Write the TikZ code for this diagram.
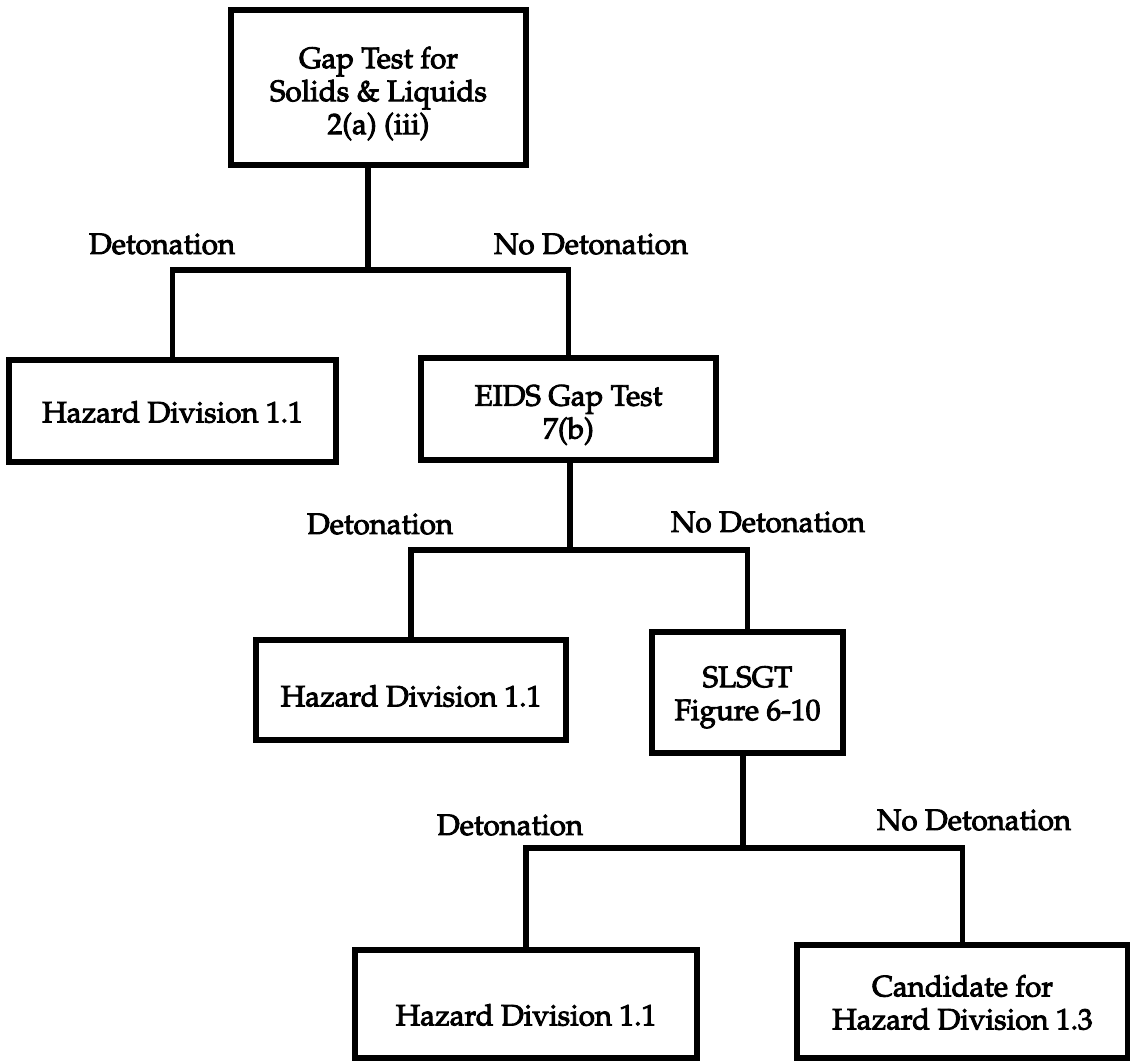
\documentclass[tikz,border=0pt]{standalone}
\usepackage[T1]{fontenc}
\renewcommand{\rmdefault}{ppl}
\newcommand{\heavyon}{\special{pdf:literal direct 2 Tr 0.9 w}}
\newcommand{\heavyoff}{\special{pdf:literal direct 0 Tr}}
\begin{document}
\begin{tikzpicture}[x=1pt,y=-1pt,
  box/.style={draw, line width=5.5pt, rectangle, inner sep=0pt},
  tx/.style={align=center, inner sep=0pt, font=\fontsize{29.5}{33}\selectfont},
  lab/.style={inner sep=0pt, font=\fontsize{29.5}{33}\selectfont},
  conn/.style={line width=5.5pt}]
\useasboundingbox (0,0) rectangle (1130,1061);
% boxes
\node[box, minimum width=295pt, minimum height=155pt] (A) at (378.5,87.5) {};
\node[box, minimum width=327pt, minimum height=102pt] (B1) at (172.5,411) {};
\node[box, minimum width=295pt, minimum height=102pt] (B2) at (568.5,409) {};
\node[box, minimum width=310pt, minimum height=100pt] (B3) at (411,690) {};
\node[box, minimum width=191pt, minimum height=121pt] (B4) at (747.5,692.5) {};
\node[box, minimum width=342pt, minimum height=108pt] (B5) at (526,1004) {};
\node[box, minimum width=331pt, minimum height=113pt] (B6) at (962.5,1001.5) {};
% box texts
\node[tx] (At) at ([yshift=-6pt]A.center) {\heavyon Gap Test for\\Solids \& Liquids\\2(a) (iii)\heavyoff};
\node[tx] (B1t) at ([yshift=-1pt]B1.center) {\heavyon Hazard Division 1.1\heavyoff};
\node[tx] (B2t) at ([yshift=-6pt]B2.center) {\heavyon EIDS Gap Test\\7(b)\heavyoff};
\node[tx] (B3t) at ([yshift=-6pt]B3.center) {\heavyon Hazard Division 1.1\heavyoff};
\node[tx] (B4t) at ([yshift=-5pt]B4.center) {\heavyon SLSGT\\Figure 6-10\heavyoff};
\node[tx] (B5t) at ([yshift=-11pt]B5.center) {\heavyon Hazard Division 1.1\heavyoff};
\node[tx] (B6t) at ([yshift=-1pt]B6.center) {\heavyon Candidate for\\Hazard Division 1.3\heavyoff};
% junctions
\coordinate (j1) at (368,270);
\coordinate (j2) at (570,550);
\coordinate (j3) at (743,848);
% connectors
\draw[conn] (A.south -| j1) -- (j1);
\draw[conn] (B1.north) -- (B1.north |- j1) -- (B2.north |- j1) -- (B2.north);
\draw[conn] (B2.south -| j2) -- (j2);
\draw[conn] (B3.north) -- (B3.north |- j2) -- (B4.north |- j2) -- (B4.north);
\draw[conn] (B4.south -| j3) -- (j3);
\draw[conn] (B5.north) -- (B5.north |- j3) -- (B6.north |- j3) -- (B6.north);
% labels
\node[lab] (l1) at (162,244) {\heavyon Detonation\heavyoff};
\node[lab] (l2) at (591,244) {\heavyon No Detonation\heavyoff};
\node[lab] (l3) at (380,524) {\heavyon Detonation\heavyoff};
\node[lab] (l4) at (768,522) {\heavyon No Detonation\heavyoff};
\node[lab] (l5) at (510,825) {\heavyon Detonation\heavyoff};
\node[lab] (l6) at (974,820) {\heavyon No Detonation\heavyoff};
\end{tikzpicture}
\end{document}
